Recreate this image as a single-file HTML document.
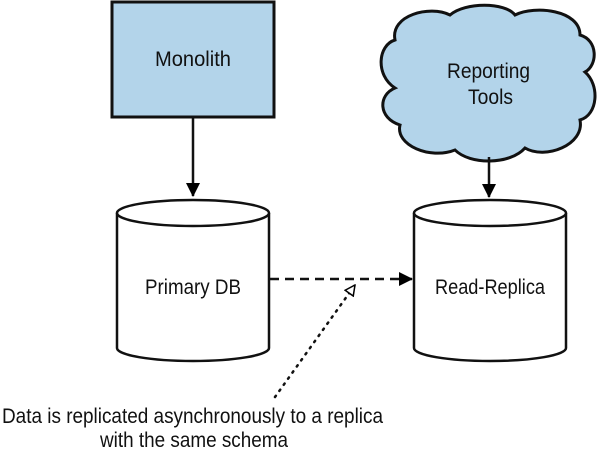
<!DOCTYPE html>
<html><head><meta charset="utf-8"><style>
html,body{margin:0;padding:0;background:#fff;}
svg{display:block;}
text{font-family:"Liberation Sans Narrow","Liberation Sans",sans-serif;font-size:21px;fill:#111;}
</style></head><body>
<svg width="600" height="455" viewBox="0 0 600 455" xmlns="http://www.w3.org/2000/svg">
<defs>
<marker id="fb" markerWidth="14" markerHeight="14" refX="13" refY="7" orient="auto" markerUnits="userSpaceOnUse" viewBox="0 0 14 14">
<path d="M0,0 L14,7 L0,14 z" fill="#000"/></marker>
<marker id="oa" markerWidth="12" markerHeight="12" refX="11" refY="6" orient="auto" markerUnits="userSpaceOnUse" viewBox="0 0 12 12">
<path d="M1,1 L11,6 L1,11 z" fill="#fff" stroke="#000" stroke-width="1.5"/></marker>
</defs>
<rect x="112" y="2" width="162" height="115" fill="#b3d4ea" stroke="#111" stroke-width="3"/>
<text x="155" y="66" textLength="76" lengthAdjust="spacingAndGlyphs">Monolith</text>
<line x1="193" y1="117" x2="193" y2="196" stroke="#111" stroke-width="2.5" marker-end="url(#fb)"/>
<path d="M395,40 C390,15 430,5 450,15 C465,2 505,2 515,15 C535,5 580,10 580,35 C598,40 598,65 585,72 C600,85 598,115 580,120 C585,145 545,160 525,148 C510,165 470,165 455,150 C430,160 395,145 400,125 C378,118 378,95 395,88 C375,75 378,45 395,40 z" fill="#b3d4ea" stroke="#111" stroke-width="3"/>
<text x="447" y="78" textLength="83" lengthAdjust="spacingAndGlyphs">Reporting</text>
<text x="468" y="104" textLength="45" lengthAdjust="spacingAndGlyphs">Tools</text>
<line x1="489" y1="157" x2="489" y2="197" stroke="#111" stroke-width="2.5" marker-end="url(#fb)"/>
<g fill="#fff" stroke="#111" stroke-width="2.5">
<path d="M117,213 L117,348 A76,13 0 0 0 269,348 L269,213"/>
<ellipse cx="193" cy="213" rx="76" ry="13"/>
<path d="M414,213 L414,348 A76,13 0 0 0 566,348 L566,213"/>
<ellipse cx="490" cy="213" rx="76" ry="13"/>
</g>
<text x="145" y="294" textLength="96" lengthAdjust="spacingAndGlyphs">Primary DB</text>
<text x="435" y="294" textLength="110" lengthAdjust="spacingAndGlyphs">Read-Replica</text>
<line x1="270" y1="279" x2="412" y2="279" stroke="#111" stroke-width="2.5" stroke-dasharray="9,6" marker-end="url(#fb)"/>
<line x1="275" y1="397" x2="355" y2="285" stroke="#111" stroke-width="2.5" stroke-dasharray="1.5,6" stroke-linecap="round" marker-end="url(#oa)"/>
<text x="2" y="423" textLength="381" lengthAdjust="spacingAndGlyphs">Data is replicated asynchronously to a replica</text>
<text x="100" y="447" textLength="188" lengthAdjust="spacingAndGlyphs">with the same schema</text>
</svg>
</body></html>
